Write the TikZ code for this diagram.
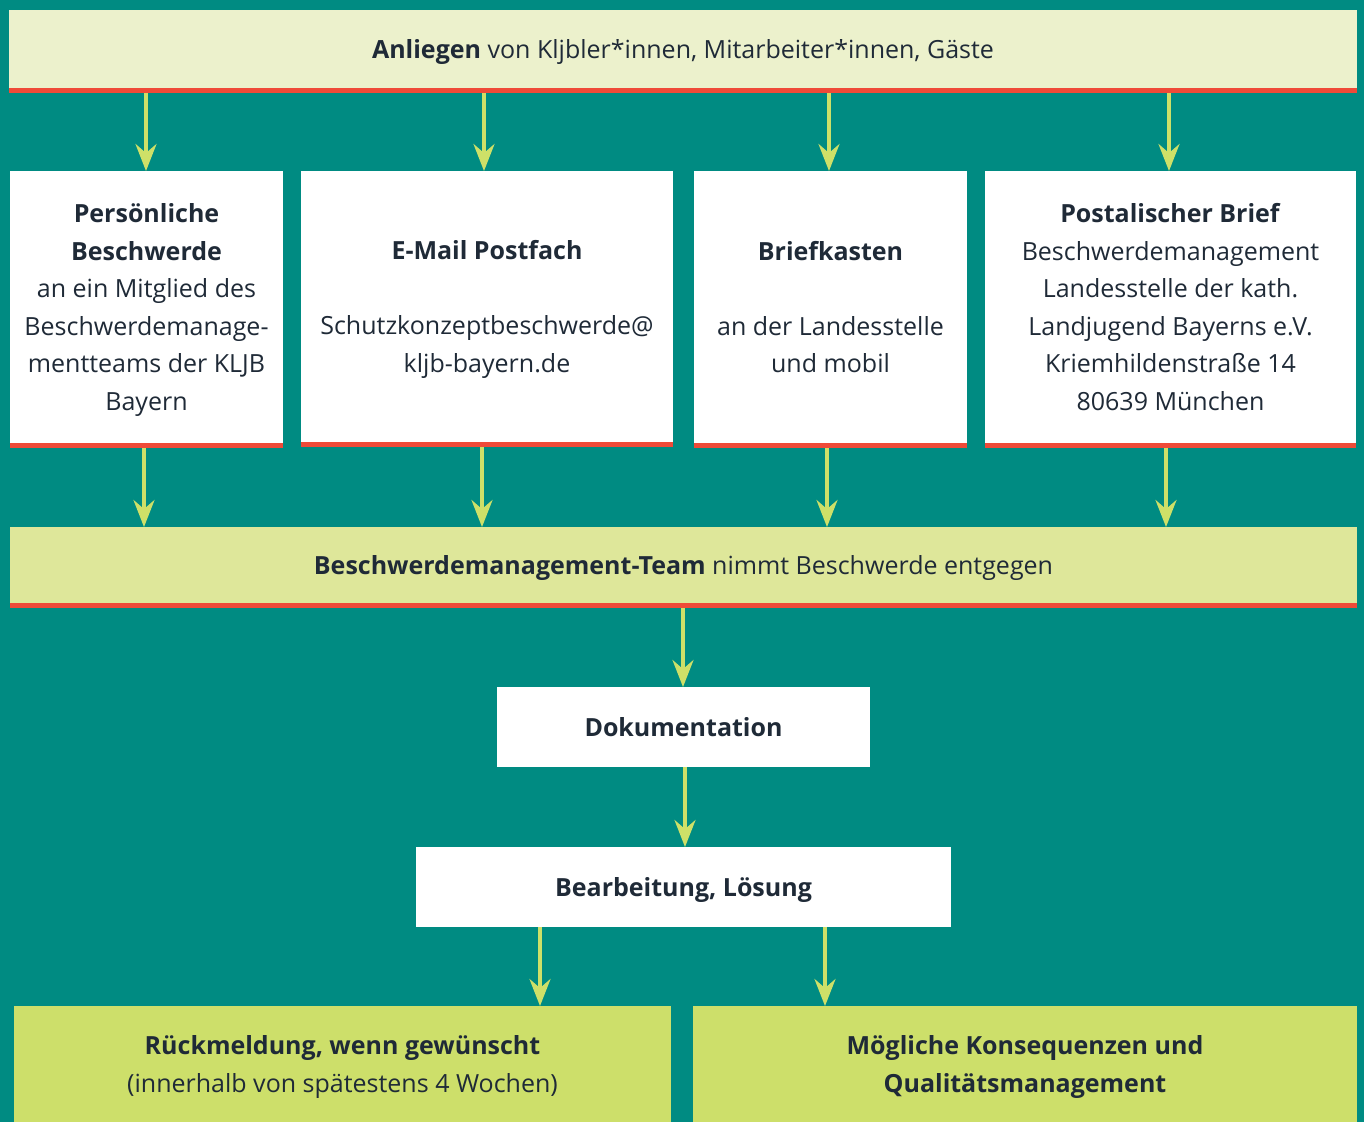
\documentclass[tikz,border=0pt]{standalone}
\usepackage{fontspec}
\setmainfont{Open Sans}
\usetikzlibrary{arrows.meta}
\definecolor{bgteal}{RGB}{0,139,130}
\definecolor{topc}{RGB}{236,241,204}
\definecolor{midc}{RGB}{222,231,154}
\definecolor{lowc}{RGB}{205,223,106}
\definecolor{arrc}{RGB}{206,224,104}
\definecolor{redc}{RGB}{239,74,56}
\definecolor{txtc}{RGB}{31,42,55}
\begin{document}
\begin{tikzpicture}[x=1pt,y=-1pt,
  box/.style={draw=none, inner sep=0pt, outer sep=0pt, anchor=north west, align=center,
    text=txtc, text depth=0pt, font=\fontsize{25}{37.5}\selectfont},
  redline/.style={fill=redc, draw=none, inner sep=0pt, outer sep=0pt, anchor=north west, minimum height=5pt},
  arr/.style={draw=arrc, line width=3.5pt, -{Stealth[length=27pt,width=21pt,inset=9pt]}}]
\fill[bgteal] (0,0) rectangle (1364,1122);
\useasboundingbox (0,0) rectangle (1364,1122);

% top bar
\node[box, fill=topc, minimum width=1348pt, minimum height=78pt] (top) at (9,10)
  {\textbf{Anliegen} von Kljbler*innen, Mitarbeiter*innen, Gäste};
\node[redline, minimum width=1348pt] (topR) at (top.south west) {};

% four boxes
\node[box, fill=white, minimum width=273pt, minimum height=272pt] (b1) at (10,171)
  {\textbf{Persönliche}\\\textbf{Beschwerde}\\an ein Mitglied des\\Beschwerdemanage-\\mentteams der KLJB\\Bayern};
\node[redline, minimum width=273pt] (b1R) at (b1.south west) {};
\node[box, fill=white, minimum width=372pt, minimum height=271pt] (b2) at (301,171)
  {\textbf{E-Mail Postfach}\\[37.5pt]Schutzkonzeptbeschwerde@\\kljb-bayern.de};
\node[redline, minimum width=372pt] (b2R) at (b2.south west) {};
\node[box, fill=white, minimum width=273pt, minimum height=272pt] (b3) at (694,171)
  {\textbf{Briefkasten}\\[37.5pt]an der Landesstelle\\und mobil};
\node[redline, minimum width=273pt] (b3R) at (b3.south west) {};
\node[box, fill=white, minimum width=371pt, minimum height=272pt] (b4) at (985,171)
  {\textbf{Postalischer Brief}\\Beschwerdemanagement\\Landesstelle der kath.\\Landjugend Bayerns e.V.\\Kriemhildenstraße 14\\80639 München};
\node[redline, minimum width=371pt] (b4R) at (b4.south west) {};

% middle bar
\node[box, fill=midc, minimum width=1347pt, minimum height=76pt] (mid) at (10,527)
  {\textbf{Beschwerdemanagement-Team} nimmt Beschwerde entgegen};
\node[redline, minimum width=1347pt] (midR) at (mid.south west) {};

% process boxes
\node[box, fill=white, minimum width=373pt, minimum height=80pt] (dok) at (497,687)
  {\textbf{Dokumentation}};
\node[box, fill=white, minimum width=535pt, minimum height=80pt] (bear) at (416,847)
  {\textbf{Bearbeitung, Lösung}};

% bottom boxes
\node[box, fill=lowc, minimum width=657pt, minimum height=116pt] (r1) at (14,1006)
  {\textbf{Rückmeldung, wenn gewünscht}\\(innerhalb von spätestens 4 Wochen)};
\node[box, fill=lowc, minimum width=664pt, minimum height=116pt] (r2) at (693,1006)
  {\textbf{Mögliche Konsequenzen und}\\\textbf{Qualitätsmanagement}};

% arrow columns
\coordinate (c1) at (146,0);
\coordinate (c2) at (484,0);
\coordinate (c3) at (829,0);
\coordinate (c4) at (1169,0);
\coordinate (d1) at (144,0);
\coordinate (d2) at (482,0);
\coordinate (d3) at (827,0);
\coordinate (d4) at (1166,0);
\coordinate (e1) at (683,0);
\coordinate (e2) at (685,0);
\coordinate (f1) at (540,0);
\coordinate (f2) at (825,0);

\draw[arr] (topR.south -| c1) -- (b1.north -| c1);
\draw[arr] (topR.south -| c2) -- (b2.north -| c2);
\draw[arr] (topR.south -| c3) -- (b3.north -| c3);
\draw[arr] (topR.south -| c4) -- (b4.north -| c4);

\draw[arr] (b1R.south -| d1) -- (mid.north -| d1);
\draw[arr] (b2R.south -| d2) -- (mid.north -| d2);
\draw[arr] (b3R.south -| d3) -- (mid.north -| d3);
\draw[arr] (b4R.south -| d4) -- (mid.north -| d4);

\draw[arr] (midR.south -| e1) -- (dok.north -| e1);
\draw[arr] (dok.south -| e2) -- (bear.north -| e2);
\draw[arr] (bear.south -| f1) -- (r1.north -| f1);
\draw[arr] (bear.south -| f2) -- (r2.north -| f2);
\end{tikzpicture}
\end{document}
